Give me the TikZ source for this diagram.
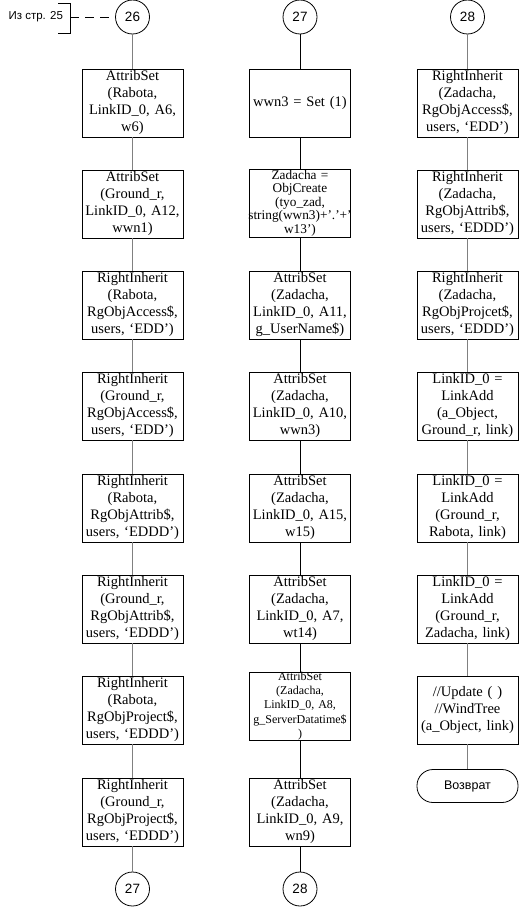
\documentclass[tikz,border=0pt]{standalone}
\usepackage{fontspec}
\setmainfont{Liberation Serif}
\setsansfont{Liberation Sans}
\definecolor{linegray}{RGB}{128,128,128}
\tikzset{
  procbox/.style={draw=black, line width=0.9pt, minimum width=101pt,
    minimum height=68pt, inner sep=0pt, text width=100pt, align=center,
    font=\fontsize{14.5}{17}\selectfont},
  pagecon/.style={draw=black, circle, line width=0.8pt, minimum size=34pt,
    inner sep=0pt, font=\sffamily\fontsize{13.5}{15}\selectfont},
  termbox/.style={draw=black, line width=0.8pt, rounded corners=16pt,
    minimum width=101pt, minimum height=33pt, inner sep=0pt,
    font=\sffamily\fontsize{12.5}{14}\selectfont},
  grayflow/.style={draw=linegray, line width=1pt},
  blackflow/.style={draw=black, line width=1pt}
}
\begin{document}
\begin{tikzpicture}[x=1pt, y=-1pt]
  \useasboundingbox (0,0) rectangle (521,907);

  % Off-page reference
  \node[font=\sffamily\fontsize{11.5}{14}\selectfont, anchor=west] (from) at (5,17) {Из стр. 25};
  \draw[black, line width=0.8pt] (58,3) -- (70,3) -- (70,33) -- (58,33);
  \coordinate (brk) at (70,17);

  % Left column
  \node[pagecon] (on26) at (132.5,17) {26};
  \node[procbox] (a1) at (132.5,103) {AttribSet\\(Rabota,\\LinkID\_0, A6,\\w6)};
  \node[procbox] (a2) at (132.5,204) {AttribSet\\(Ground\_r,\\LinkID\_0, A12,\\wwn1)};
  \node[procbox] (a3) at (132.5,305) {RightInherit\\(Rabota,\\RgObjAccess\$,\\users, ‘EDD’)};
  \node[procbox] (a4) at (132.5,406) {RightInherit\\(Ground\_r,\\RgObjAccess\$,\\users, ‘EDD’)};
  \node[procbox] (a5) at (132.5,508) {RightInherit\\(Rabota,\\RgObjAttrib\$,\\users, ‘EDDD’)};
  \node[procbox] (a6) at (132.5,609) {RightInherit\\(Ground\_r,\\RgObjAttrib\$,\\users, ‘EDDD’)};
  \node[procbox] (a7) at (132.5,710) {RightInherit\\(Rabota,\\RgObjProject\$,\\users, ‘EDDD’)};
  \node[procbox] (a8) at (132.5,812) {RightInherit\\(Ground\_r,\\RgObjProject\$,\\users, ‘EDDD’)};
  \node[pagecon] (off27) at (132.5,889) {27};

  % Middle column
  \node[pagecon] (on27) at (300,17) {27};
  \node[procbox] (m1) at (300,103) {wwn3 = Set (1)};
  \node[procbox, font=\fontsize{13.3}{13.6}\selectfont] (m2) at (300,203)
    {Zadacha =\\ObjCreate\\(tyo\_zad,\\\makebox[100pt][c]{string(wwn3)+’.’+’}\\w13’)};
  \node[procbox] (m3) at (300,305) {AttribSet\\(Zadacha,\\LinkID\_0, A11,\\g\_UserName\$)};
  \node[procbox] (m4) at (300,406) {AttribSet\\(Zadacha,\\LinkID\_0, A10,\\wwn3)};
  \node[procbox] (m5) at (300,508) {AttribSet\\(Zadacha,\\LinkID\_0, A15,\\w15)};
  \node[procbox] (m6) at (300,609) {AttribSet\\(Zadacha,\\LinkID\_0, A7,\\wt14)};
  \node[procbox, font=\fontsize{12}{14.3}\selectfont] (m7) at (300,706)
    {AttribSet\\(Zadacha,\\LinkID\_0, A8,\\g\_ServerDatatime\$\\)};
  \node[procbox] (m8) at (300,812) {AttribSet\\(Zadacha,\\LinkID\_0, A9,\\wn9)};
  \node[pagecon] (off28) at (300,889) {28};

  % Right column
  \node[pagecon] (on28) at (467.5,17) {28};
  \node[procbox] (r1) at (467.5,103) {RightInherit\\(Zadacha,\\RgObjAccess\$,\\users, ‘EDD’)};
  \node[procbox] (r2) at (467.5,204) {RightInherit\\(Zadacha,\\RgObjAttrib\$,\\users, ‘EDDD’)};
  \node[procbox] (r3) at (467.5,305) {RightInherit\\(Zadacha,\\RgObjProjcet\$,\\users, ‘EDDD’)};
  \node[procbox] (r4) at (467.5,406) {LinkID\_0 =\\LinkAdd\\(a\_Object,\\Ground\_r, link)};
  \node[procbox] (r5) at (467.5,508) {LinkID\_0 =\\LinkAdd\\(Ground\_r,\\Rabota, link)};
  \node[procbox] (r6) at (467.5,609) {LinkID\_0 =\\LinkAdd\\(Ground\_r,\\Zadacha, link)};
  \node[procbox] (r7) at (467.5,710) {//Update ( )\\//WindTree\\(a\_Object, link)};
  \node[termbox] (ret) at (467.5,786) {Возврат};

  % Flow lines
  \draw[black, line width=0.8pt, dash pattern=on 9pt off 6pt] (brk) -- (on26);
  \draw[grayflow] (on26) -- (a1) -- (a2) -- (a3) -- (a4) -- (a5) -- (a6) -- (a7) -- (a8) -- (off27);
  \draw[blackflow] (on27) -- (m1) -- (m2) -- (m3) -- (m4) -- (m5) -- (m6) -- (m7) -- (m8) -- (off28);
  \draw[grayflow] (on28) -- (r1) -- (r2) -- (r3) -- (r4) -- (r5) -- (r6) -- (r7) -- (ret);
\end{tikzpicture}
\end{document}
